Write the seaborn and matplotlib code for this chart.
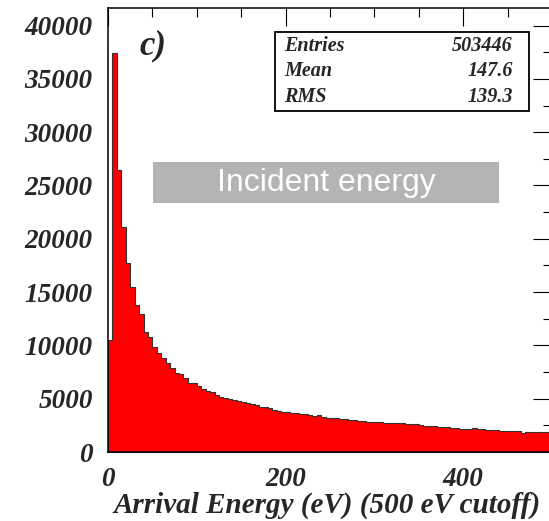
import numpy as np
import pandas as pd
import seaborn as sns
import matplotlib as mpl
from matplotlib import pyplot as plt
from matplotlib.ticker import MultipleLocator

# histogram: 100 bins of 5 eV from 0 to 500 eV
bin_start = 0
bin_width = 5
counts = [
    10500, 37450, 26500, 21100, 17700, 15500, 13790, 12940, 11290, 10750,
    9880, 9260, 8790, 8320, 7850, 7440, 7300, 6910, 6500, 6450,
    6190, 5880, 5750, 5660, 5350, 5190, 5100, 4940, 4880, 4810,
    4690, 4570, 4470, 4410, 4250, 4190, 4100, 3940, 3850, 3740,
    3720, 3700, 3680, 3530, 3530, 3500, 3380, 3440, 3250, 3170,
    3160, 3150, 3070, 3060, 3000, 3000, 2940, 2940, 2790, 2780,
    2780, 2840, 2750, 2750, 2690, 2690, 2680, 2600, 2595, 2580,
    2530, 2440, 2440, 2430, 2320, 2315, 2310, 2220, 2220, 2160,
    2160, 2150, 2250, 2130, 2130, 2070, 2065, 2060, 2000, 2000,
    1940, 1940, 1930, 1815, 1850, 1850, 1840, 1900, 1880, 1870,
]
stat_names = ['Entries', 'Mean', 'RMS']
stat_values = ['503446', '147.6', '139.3']
x_ticks = [0, 200, 400]
y_ticks = [0, 5000, 10000, 15000, 20000, 25000, 30000, 35000, 40000]

sns.set_style("white")
plt.rcParams['font.family'] = ['Liberation Serif', 'DejaVu Serif']

n = len(counts)
bin_end = bin_start + bin_width * n
df = pd.DataFrame({'energy': bin_start + bin_width * (np.arange(n) + 0.5), 'count': counts})

fig = plt.figure(figsize=(5.49, 5.21), dpi=100)
ax = fig.add_axes([108 / 549, 69 / 521, 444 / 549, 444 / 521])

sns.histplot(data=df, x='energy', weights='count', binwidth=bin_width,
             binrange=(bin_start, bin_end), element='step', fill=True,
             color='#ff0000', alpha=1, edgecolor='#333333', linewidth=0.8, ax=ax)

ax.set_xlim(0, 500)
ax.set_ylim(0, 41650)
ax.set_xticks(x_ticks)
ax.set_yticks(y_ticks)
ax.xaxis.set_minor_locator(MultipleLocator(50))
ax.yaxis.set_minor_locator(MultipleLocator(2500))
ax.tick_params(which='both', direction='in', top=True, right=True, color='black', width=0.8)
ax.tick_params(which='major', axis='x', length=13, pad=11)
ax.tick_params(which='minor', axis='x', length=6.5)
ax.tick_params(which='major', axis='y', length=13.5, pad=11)
ax.tick_params(which='minor', axis='y', length=6.5)
for lab in ax.get_xticklabels() + ax.get_yticklabels():
    lab.set_fontsize(19.5)
    lab.set_fontweight('bold')
    lab.set_fontstyle('italic')
for s in ax.spines.values():
    s.set_color('black')
    s.set_linewidth(1.1)

ax.set_ylabel('')
ax.set_xlabel('')
fig.text(541 / 549, 1 - 513 / 521, 'Arrival Energy (eV) (500 eV cutoff)', ha='right', va='baseline',
         fontsize=21, fontweight='bold', fontstyle='italic')

# panel tag
fig.text(139 / 549, 1 - 46 / 521, 'c)', ha='left', va='center',
         fontsize=25, fontweight='bold', fontstyle='italic')

# stats box
fig.patches.append(mpl.patches.Rectangle((275 / 549, 1 - 111 / 521), 254 / 549, 79 / 521,
                                         transform=fig.transFigure, facecolor='white',
                                         edgecolor='black', linewidth=1.3, zorder=5))
for i, (name, val) in enumerate(zip(stat_names, stat_values)):
    yy = 1 - (46 + 25.5 * i) / 521
    fig.text(284 / 549, yy, name, ha='left', va='center', fontsize=14.5,
             fontweight='bold', fontstyle='italic', zorder=6)
    fig.text(513 / 549, yy, val, ha='right', va='center', fontsize=14.5,
             fontweight='bold', fontstyle='italic', zorder=6)

# overlay label
fig.patches.append(mpl.patches.Rectangle((153 / 549, 1 - 203 / 521), 346 / 549, 41 / 521,
                                         transform=fig.transFigure, facecolor='#b4b4b4',
                                         edgecolor='none', zorder=5))
fig.text(326 / 549, 1 - 183 / 521, 'Incident energy', ha='center', va='center',
         fontsize=23, color='white', family=['Liberation Sans', 'DejaVu Sans'], zorder=6)

fig.savefig('out.png', dpi=100)
